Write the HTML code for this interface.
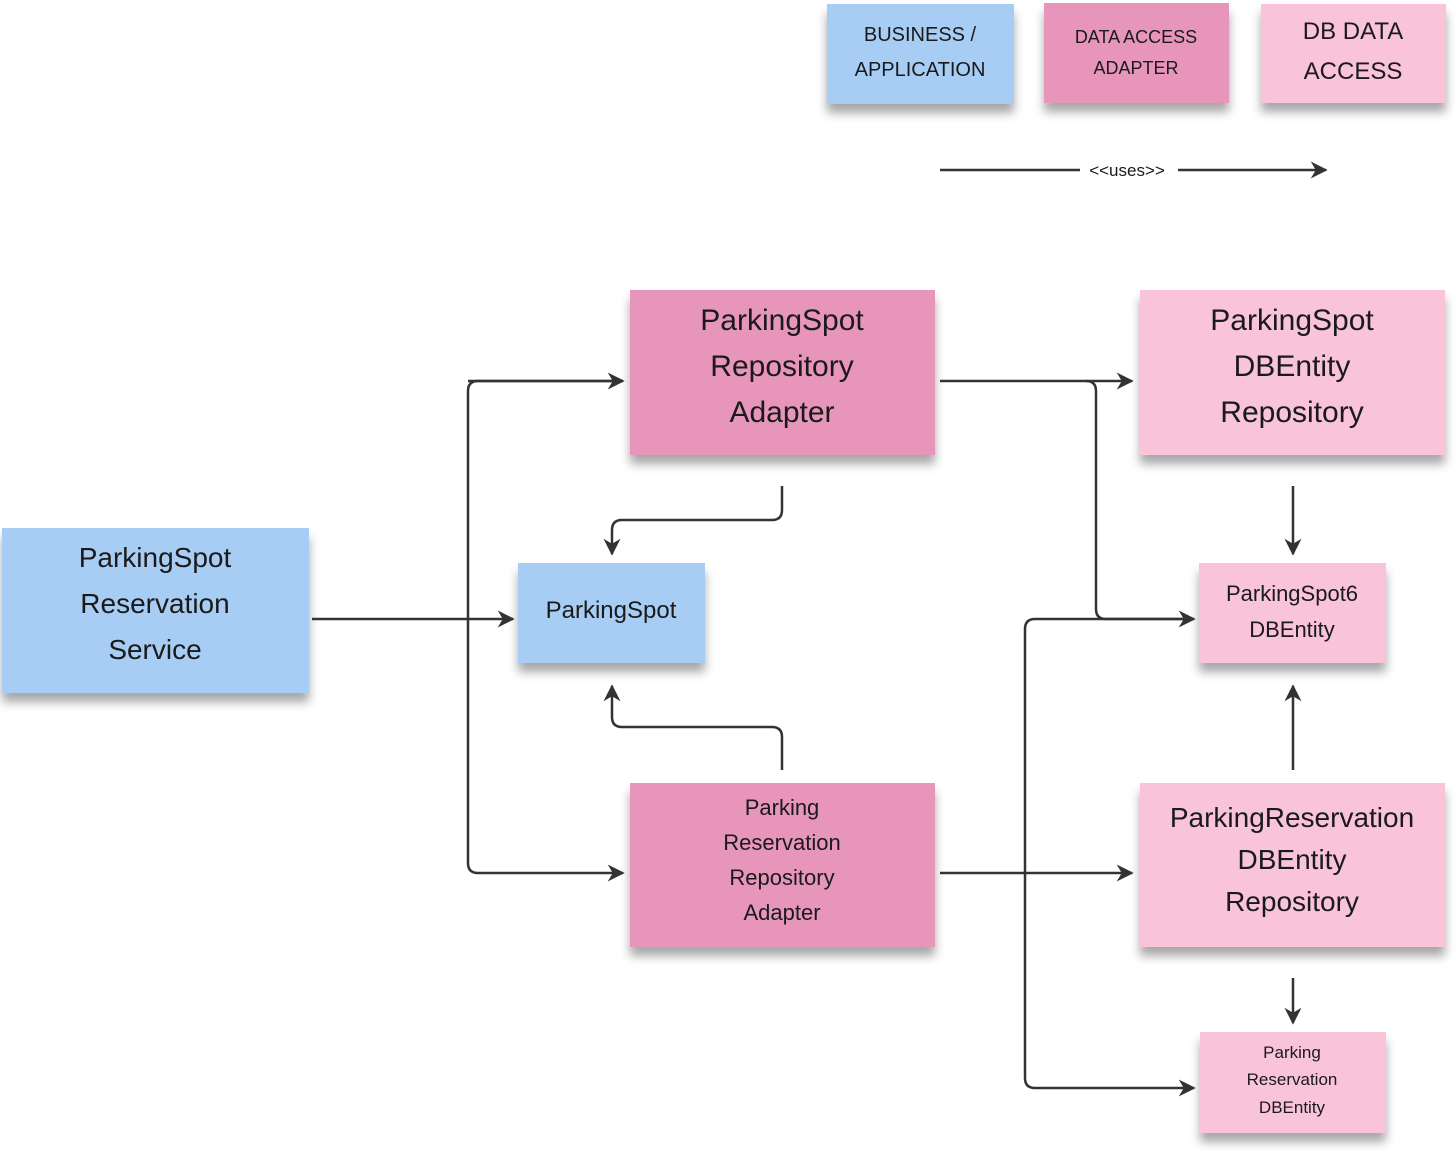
<!DOCTYPE html>
<html><head><meta charset="utf-8"><style>
html,body{margin:0;padding:0;background:#fff;}
svg{display:block}
text{font-family:"Liberation Sans",sans-serif;fill:#1a1a1a;text-anchor:middle;}
</style></head><body>
<svg width="1456" height="1175" viewBox="0 0 1456 1175" xmlns="http://www.w3.org/2000/svg">
<defs>
<marker id="a" markerWidth="17" markerHeight="17" refX="9" refY="5" orient="auto" markerUnits="userSpaceOnUse" viewBox="0 0 10 10">
<path d="M0,0 L10,5 L0,10 L3,5 Z" fill="#333"/></marker>
<filter id="s" x="-10%" y="-10%" width="120%" height="140%"><feDropShadow dx="0" dy="9" stdDeviation="5" flood-color="#000" flood-opacity="0.35"/></filter>
</defs>
<g filter="url(#s)">
<rect x="827" y="4" width="187" height="100" fill="#a8cdf4"/>
<rect x="1044" y="3" width="185" height="100" fill="#e895bb"/>
<rect x="1261" y="4" width="185" height="99" fill="#f9c3d9"/>
<rect x="2" y="528" width="307" height="165" fill="#a8cdf4"/>
<rect x="630" y="290" width="305" height="165" fill="#e895bb"/>
<rect x="518" y="563" width="187" height="100" fill="#a8cdf4"/>
<rect x="630" y="783" width="305" height="164" fill="#e895bb"/>
<rect x="1140" y="290" width="305" height="165" fill="#f9c3d9"/>
<rect x="1199" y="563" width="187" height="100" fill="#f9c3d9"/>
<rect x="1140" y="783" width="305" height="164" fill="#f9c3d9"/>
<rect x="1200" y="1032" width="186" height="101" fill="#f9c3d9"/>
</g>
<g stroke="#333" stroke-width="2.5" fill="none">
<line x1="940" y1="170" x2="1080" y2="170"/>
<line x1="1178" y1="170" x2="1326" y2="170" marker-end="url(#a)"/>
<line x1="312" y1="619" x2="513" y2="619" marker-end="url(#a)"/>
<path d="M623,381 H478 Q468,381 468,391 V863 Q468,873 478,873 H623" marker-end="url(#a)"/>
<path d="M468,381 H623" marker-end="url(#a)"/>
<path d="M782,486 V510 Q782,520 772,520 H622 Q612,520 612,530 V554" marker-end="url(#a)"/>
<path d="M782,770 V737 Q782,727 772,727 H622 Q612,727 612,717 V686" marker-end="url(#a)"/>
<path d="M940,381 H1132" marker-end="url(#a)"/>
<path d="M1086,381 Q1096,381 1096,391 V609 Q1096,619 1106,619 H1194" marker-end="url(#a)"/>
<path d="M940,873 H1132" marker-end="url(#a)"/>
<path d="M1194,619 H1035 Q1025,619 1025,629 V1078 Q1025,1088 1035,1088 H1194" marker-end="url(#a)"/>
<path d="M1293,486 V554" marker-end="url(#a)"/>
<path d="M1293,770 V686" marker-end="url(#a)"/>
<path d="M1293,978 V1023" marker-end="url(#a)"/>
</g>
<text x="1127" y="176" font-size="17">&lt;&lt;uses&gt;&gt;</text>
<text x="920" y="41" font-size="20">BUSINESS /</text>
<text x="920" y="76" font-size="20">APPLICATION</text>
<text x="1136" y="43" font-size="18">DATA ACCESS</text>
<text x="1136" y="74" font-size="18">ADAPTER</text>
<text x="1353" y="39" font-size="24">DB DATA</text>
<text x="1353" y="79" font-size="24">ACCESS</text>
<text x="155" y="567" font-size="28">ParkingSpot</text>
<text x="155" y="613" font-size="28">Reservation</text>
<text x="155" y="659" font-size="28">Service</text>
<text x="782" y="330" font-size="30">ParkingSpot</text>
<text x="782" y="376" font-size="30">Repository</text>
<text x="782" y="422" font-size="30">Adapter</text>
<text x="611" y="618" font-size="24">ParkingSpot</text>
<text x="782" y="815" font-size="22">Parking</text>
<text x="782" y="850" font-size="22">Reservation</text>
<text x="782" y="885" font-size="22">Repository</text>
<text x="782" y="920" font-size="22">Adapter</text>
<text x="1292" y="330" font-size="30">ParkingSpot</text>
<text x="1292" y="376" font-size="30">DBEntity</text>
<text x="1292" y="422" font-size="30">Repository</text>
<text x="1292" y="601" font-size="22">ParkingSpot6</text>
<text x="1292" y="637" font-size="22">DBEntity</text>
<text x="1292" y="827" font-size="28">ParkingReservation</text>
<text x="1292" y="869" font-size="28">DBEntity</text>
<text x="1292" y="911" font-size="28">Repository</text>
<text x="1292" y="1058" font-size="17">Parking</text>
<text x="1292" y="1085" font-size="17">Reservation</text>
<text x="1292" y="1113" font-size="17">DBEntity</text>
</svg>
</body></html>
